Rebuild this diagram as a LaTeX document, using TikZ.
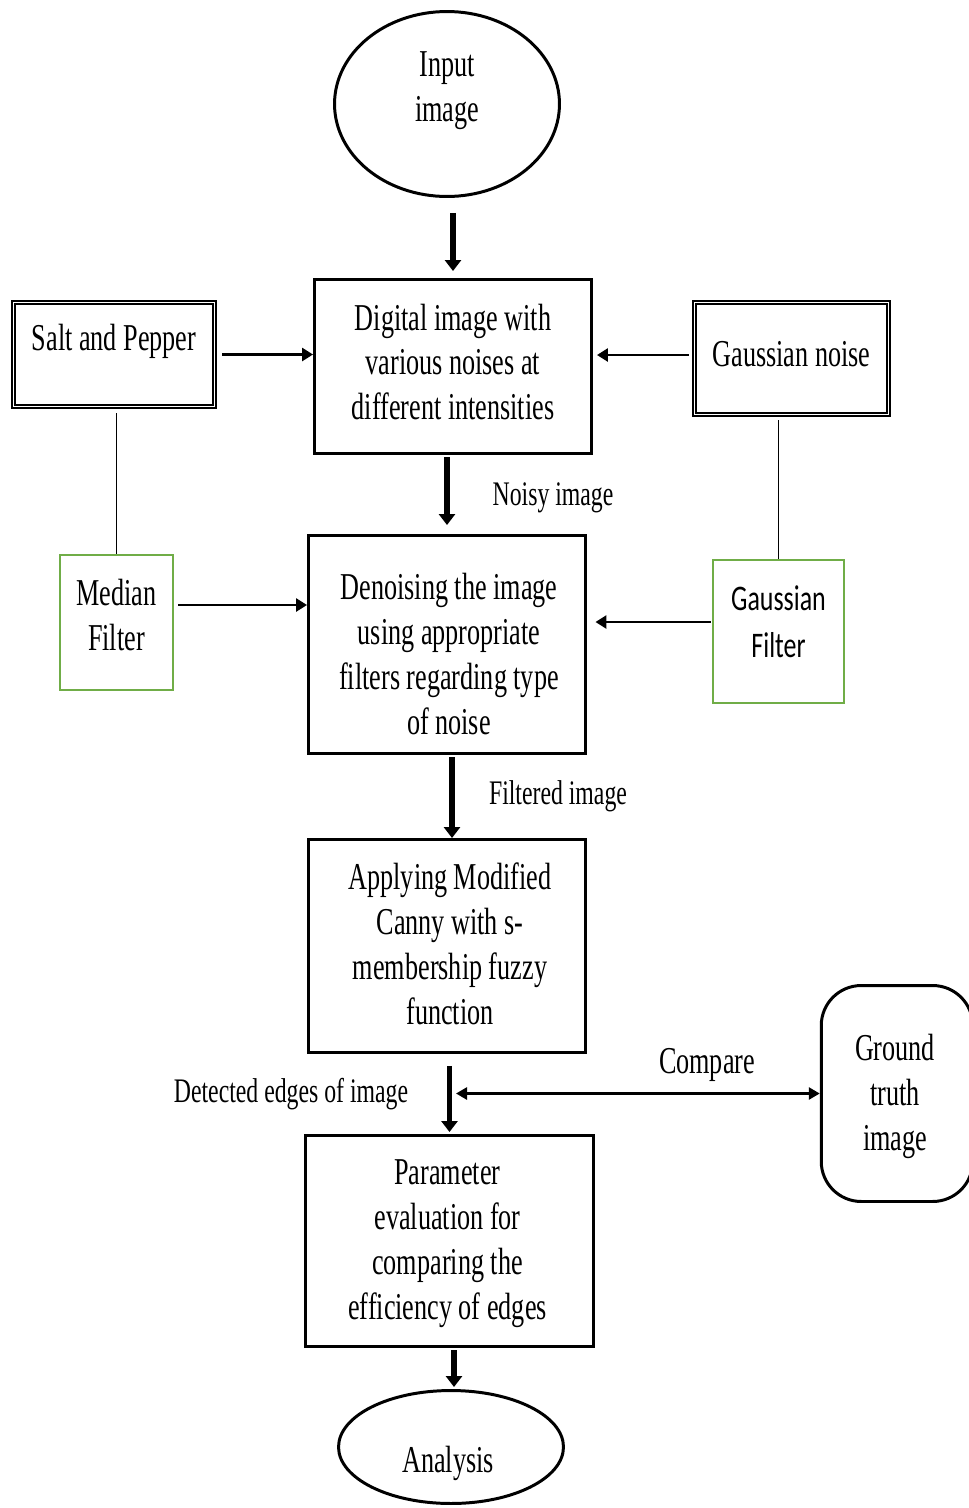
\documentclass[tikz,border=0pt]{standalone}
\usepackage{fontspec}
\setmainfont{Liberation Serif}[FakeStretch=0.69]
\newfontfamily\califont{Carlito}[FakeStretch=0.72]
\definecolor{boxgreen}{HTML}{70AD47}
\usetikzlibrary{arrows.meta, shapes.geometric, calc}

\begin{document}
\begin{tikzpicture}[x=0.02cm, y=-0.02cm,
		every node/.style={font=\fontsize{21.6pt}{25.6pt}\selectfont, align=center, inner sep=0pt},
		mainbox/.style={draw, line width=1.7pt, minimum width=5.54cm},
		dblbox/.style={draw, line width=0.85pt, double, double distance=1.1pt},
		greenbox/.style={draw=boxgreen, line width=1.4pt},
		oval/.style={draw, ellipse, line width=1.7pt, minimum width=4.5cm},
		flow/.style={line width=3pt, -{Triangle[length=0.22cm, width=0.32cm]}},
		sidearrow/.style={line width=1.5pt, -{Triangle[length=0.22cm, width=0.26cm]}},
		link/.style={line width=0.6pt},
		small/.style={font=\fontsize{19.6pt}{23pt}\selectfont}]
	\useasboundingbox (0,0) rectangle (969,1508);
	% main column
	\node[oval, minimum height=3.7cm, label={[yshift=0.27cm]center:{Input\\image}}] (input) at (447,104) {};
	\node[mainbox, minimum height=3.48cm, label={[yshift=0.09cm]center:{Digital image with\\various noises at\\different intensities}}] (digital) at (453,366.5) {};
	\node[mainbox, minimum height=4.36cm, label={[xshift=0.04cm, yshift=-0.19cm]center:{Denoising the image\\using appropriate\\filters regarding type\\of noise}}] (denoise) at (447,644.5) {};
	\node[mainbox, minimum height=4.26cm, label={[xshift=0.06cm, yshift=0.04cm]center:{Applying Modified\\Canny with s-\\membership fuzzy\\function}}] (apply) at (447,946) {};
	\node[mainbox, minimum width=5.76cm, minimum height=4.22cm, label={[xshift=-0.04cm, yshift=-0.06cm]center:{Parameter\\evaluation for\\comparing the\\efficiency of edges}}] (param) at (449.5,1241) {};
	\node[oval, minimum height=2.26cm, label={[xshift=-0.06cm, yshift=-0.32cm]center:Analysis}] (analysis) at (451,1447) {};
	% noises and filters
	\node[dblbox, minimum width=4.02cm, minimum height=2.08cm, label={[yshift=0.27cm]center:Salt and Pepper}] (salt) at (114,354.5) {};
	\node[dblbox, minimum width=3.88cm, minimum height=2.24cm, label={[yshift=0.09cm]center:Gaussian noise}] (gnoise) at (791.5,358.5) {};
	\node[greenbox, minimum width=2.26cm, minimum height=2.7cm, label={[yshift=0.15cm]center:{Median\\Filter}}] (median) at (116.5,622.5) {};
	\node[greenbox, minimum width=2.62cm, minimum height=2.86cm, label={[yshift=0.2cm, font=\fontsize{20.5pt}{26.7pt}\califont]center:{Gaussian\\Filter}}] (gfilter) at (778.5,631.5) {};
	\node[draw, line width=1.7pt, rounded corners=0.8cm, minimum width=3.03cm, minimum height=4.32cm, label={[xshift=-0.04cm, yshift=-0.06cm]center:{Ground\\truth\\image}}] (ground) at (897,1093.5) {};
	% labels on connectors
	\node[small] (noisy) at (553,498) {Noisy image};
	\node[small] (filtered) at (558,796) {Filtered image};
	\node[small] (detected) at (291,1094) {Detected edges of image};
	\node (compare) at (707,1065) {Compare};
	% connectors
	\draw[flow, shorten <=0.3cm, shorten >=0.14cm] (input.south -| digital.north) -- (digital.north);
	\draw[flow, shorten <=0.05cm, shorten >=0.18cm] (digital.south -| denoise.north) -- (denoise.north);
	\draw[flow, shorten <=0.05cm] ([xshift=0.1cm]denoise.south) -- ([xshift=0.1cm]apply.north);
	\draw[flow, shorten <=0.24cm, shorten >=0.04cm] (apply.south -| param.north) -- (param.north);
	\draw[flow, shorten <=0.05cm, shorten >=0.04cm] ([xshift=0.06cm]param.south -| analysis.north) -- ([xshift=0.06cm]analysis.north);
	\draw[sidearrow, shorten <=0.14cm] (salt.east) -- (salt.east -| digital.west);
	\draw[sidearrow, shorten <=0.1cm, shorten >=0.08cm] ($(gnoise.west)+(0,-3.5)$) -- ($(gnoise.west -| digital.east)+(0,-3.5)$);
	\draw[sidearrow, shorten <=0.08cm] ($(median.east)+(0,-17.5)$) -- ($(median.east -| denoise.west)+(0,-17.5)$);
	\draw[sidearrow, shorten <=0.02cm, shorten >=0.17cm] ($(gfilter.west)+(0,-9.5)$) -- ($(gfilter.west -| denoise.east)+(0,-9.5)$);
	\draw[sidearrow, {Triangle[length=0.22cm, width=0.24cm]}-{Triangle[length=0.22cm, width=0.24cm]}, shorten <=0.13cm] (param.north |- ground.west) -- (ground.west);
	\draw[link, shorten <=0.12cm] (median.north |- salt.south) -- (median.north);
	\draw[link, line width=1pt, shorten <=0.1cm] (gfilter.north |- gnoise.south) -- (gfilter.north);
\end{tikzpicture}
\end{document}
